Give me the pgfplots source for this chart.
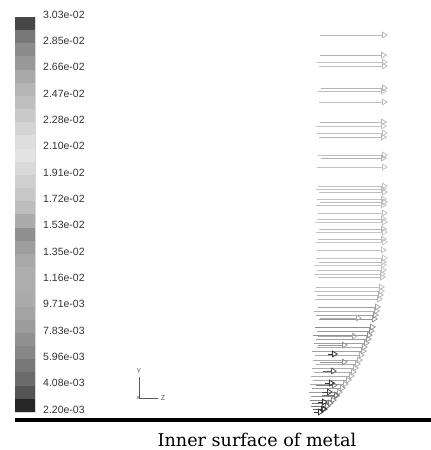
\documentclass[border=0pt]{standalone}
\usepackage{fontspec}
\setmainfont{Liberation Sans}
\newfontfamily\capfont{DejaVu Serif}
\usepackage{pgfplots}
\pgfplotsset{compat=1.18}
\usetikzlibrary{arrows.meta}

% vectors: tail x, y (pixels, downward), length u
\pgfplotstableread{
x y u
320 35 68
320 55 67
317 62 71
319 66 69
321 88 67
318 91 69
319 102 69
320 122 67
316 126 71
317 133 71
319 137 68
318 155 70
321 158 66
317 167 71
318 186 70
316 189 71
319 192 69
317 199 70
320 202 68
316 205 71
318 213 70
317 219 70
315 222 73
319 229 68
316 232 72
318 239 69
315 242 73
317 250 70
316 258 72
319 262 68
314 265 73
317 270 70
315 274 71
318 277 68
316 287 69
314 291 71
317 295 67
315 299 68
318 307 63
314 311 66
316 315 63
319 319 59
315 327 61
317 331 58
313 335 60
316 339 56
314 343 56
317 347 51
312 351 55
315 355 50
313 360 50
316 364 45
312 368 47
314 372 43
311 376 44
313 380 39
310 384 39
312 388 34
309 392 34
311 396 29
310 400 27
312 403 22
311 406 20
313 409 15
314 412 10
320 318 42
318 336 40
318 345 30
320 362 28
316 385 22
322 395 18
328 354 10
323 371 14
325 383 10
322 392 11
318 402 10
318 409 9
}\vectors

\begin{document}
\begin{tikzpicture}
\useasboundingbox (0,0) rectangle (431pt,450pt);
% colour bar
\begin{axis}[at={(15pt,38pt)}, anchor=south west, width=20pt, height=395pt, scale only axis,
  ybar stacked, bar width=1, xmin=-0.5, xmax=0.5, ymin=0, ymax=30,
  xtick=\empty, ytick={0,2,...,30}, yticklabel pos=right, major tick length=0pt,
  yticklabels={2.20e-03,4.08e-03,5.96e-03,7.83e-03,9.71e-03,1.16e-02,1.35e-02,1.53e-02,1.72e-02,1.91e-02,2.10e-02,2.28e-02,2.47e-02,2.66e-02,2.85e-02,3.03e-02},
  yticklabel style={font=\fontsize{10.5}{12}\selectfont, text=black!80, inner sep=0pt, xshift=8pt, yshift=2.5pt},
  axis line style={gray!30, line width=0.5pt}]
\addplot[fill=black!85,draw=none] coordinates {(0,1)};
\addplot[fill=black!67,draw=none] coordinates {(0,1)};
\addplot[fill=black!58,draw=none] coordinates {(0,1)};
\addplot[fill=black!53,draw=none] coordinates {(0,1)};
\addplot[fill=black!47,draw=none] coordinates {(0,1)};
\addplot[fill=black!43,draw=none] coordinates {(0,1)};
\addplot[fill=black!39,draw=none] coordinates {(0,1)};
\addplot[fill=black!36,draw=none] coordinates {(0,1)};
\addplot[fill=black!33,draw=none] coordinates {(0,1)};
\addplot[fill=black!32,draw=none] coordinates {(0,1)};
\addplot[fill=black!32,draw=none] coordinates {(0,1)};
\addplot[fill=black!34,draw=none] coordinates {(0,1)};
\addplot[fill=black!38,draw=none] coordinates {(0,1)};
\addplot[fill=black!44,draw=none] coordinates {(0,1)};
\addplot[fill=black!33,draw=none] coordinates {(0,1)};
\addplot[fill=black!26,draw=none] coordinates {(0,1)};
\addplot[fill=black!22,draw=none] coordinates {(0,1)};
\addplot[fill=black!19,draw=none] coordinates {(0,1)};
\addplot[fill=black!15,draw=none] coordinates {(0,1)};
\addplot[fill=black!11,draw=none] coordinates {(0,1)};
\addplot[fill=black!13,draw=none] coordinates {(0,1)};
\addplot[fill=black!17,draw=none] coordinates {(0,1)};
\addplot[fill=black!21,draw=none] coordinates {(0,1)};
\addplot[fill=black!25,draw=none] coordinates {(0,1)};
\addplot[fill=black!29,draw=none] coordinates {(0,1)};
\addplot[fill=black!34,draw=none] coordinates {(0,1)};
\addplot[fill=black!40,draw=none] coordinates {(0,1)};
\addplot[fill=black!45,draw=none] coordinates {(0,1)};
\addplot[fill=black!53,draw=none] coordinates {(0,1)};
\addplot[fill=black!72,draw=none] coordinates {(0,1)};
\end{axis}
% vector field
\begin{axis}[at={(0,0)}, anchor=south west, width=431pt, height=450pt, scale only axis,
  xmin=0, xmax=431, ymin=0, ymax=450, y dir=reverse, hide axis, clip=false,
  colormap={fgray}{gray=(0.15) gray=(0.33) gray=(0.42) gray=(0.47) gray=(0.53) gray=(0.57) gray=(0.61) gray=(0.64) gray=(0.67) gray=(0.68) gray=(0.68) gray=(0.66) gray=(0.62) gray=(0.56) gray=(0.67) gray=(0.74) gray=(0.78) gray=(0.81) gray=(0.85) gray=(0.89) gray=(0.87) gray=(0.83) gray=(0.79) gray=(0.75) gray=(0.71) gray=(0.66) gray=(0.60) gray=(0.55) gray=(0.47) gray=(0.28)},
  point meta min=8.5, point meta max=125]
\addplot[quiver={u=\thisrow{u}, v=0, colored=mapped color,
   every arrow/.append style={-{Triangle[open,length=6pt,width=7pt]}}},
   point meta=\thisrow{u}, line width=0.8pt] table[x=x,y=y] {\vectors};
\addplot[black, line width=4pt] coordinates {(15,420) (431,420)};
\addplot[black!65, line width=0.6pt] coordinates {(139,377) (139,398) (158,398)};
\node[font=\fontsize{7}{8}\selectfont, text=black!65] at (axis cs:139,371) {Y};
\node[font=\fontsize{7}{8}\selectfont, text=black!65] at (axis cs:163,398) {Z};
\node[font=\fontsize{6}{7}\selectfont, text=black!65] at (axis cs:138,398) {x};
\node[anchor=base, font=\capfont\fontsize{17.6}{20}\selectfont] at (axis cs:257,446) {Inner surface of metal};
\end{axis}
\end{tikzpicture}
\end{document}
